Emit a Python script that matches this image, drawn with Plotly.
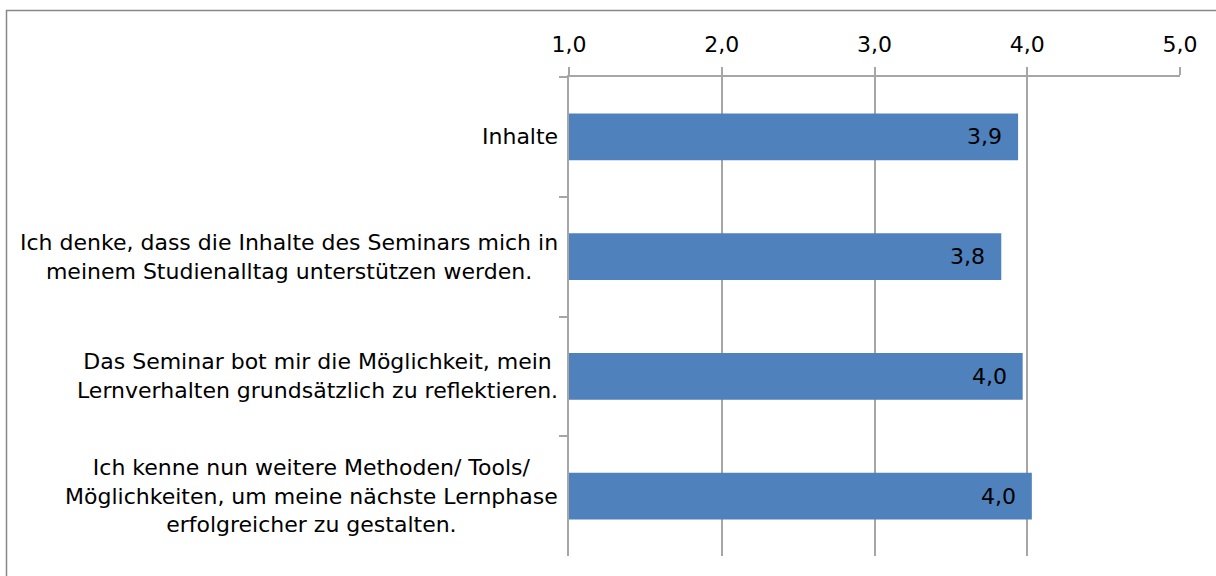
import plotly.graph_objects as go

categories = [
    "Inhalte",
    "Ich denke, dass die Inhalte des Seminars mich in<br>meinem Studienalltag unterstützen werden.",
    "Das Seminar bot mir die Möglichkeit, mein<br>Lernverhalten grundsätzlich zu reflektieren.",
    "Ich kenne nun weitere Methoden/ Tools/<br>Möglichkeiten, um meine nächste Lernphase<br>erfolgreicher zu gestalten.",
]
keys = ["c1", "c2", "c3", "c4"]
values = [3.94, 3.83, 3.97, 4.03]
value_labels = ["3,9", "3,8", "4,0", "4,0"]
x_ticks = [1, 2, 3, 4, 5]
x_tick_labels = ["1,0", "2,0", "3,0", "4,0", "5,0"]

W, H = 1216, 576
L, R, T, B = 569, 36, 77, 20
pw, ph = W - L - R, H - T - B

FONT = "DejaVu Sans"
FS = 22
fig = go.Figure()
fig.add_trace(go.Bar(
    y=keys, x=values, orientation="h",
    marker=dict(color="#4F81BD", line=dict(width=0)),
    width=0.39,
    hoverinfo="skip",
))

for k, v, t in zip(keys, values, value_labels):
    fig.add_annotation(x=v, xref="x", y=k, yref="y", text=t, showarrow=False,
                       xanchor="right", xshift=-14,
                       font=dict(family=FONT, size=FS, color="black"))

for k, c in zip(keys, categories):
    fig.add_annotation(x=0, xref="paper", y=k, yref="y", text=c, showarrow=False,
                       xanchor="right", align="center", xshift=-9,
                       font=dict(family=FONT, size=FS, color="black"))

def px2x(p):
    return (p - L) / pw

def px2y(p):
    return (H - B - p) / ph

fig.add_shape(type="rect", xref="paper", yref="paper",
              x0=px2x(6.5), x1=px2x(1230), y0=px2y(590), y1=px2y(10.5),
              line=dict(color="#888888", width=1.5), fillcolor="rgba(0,0,0,0)", layer="below")

fig.update_layout(
    width=W, height=H,
    margin=dict(l=L, r=R, t=T, b=B, pad=0),
    paper_bgcolor="white", plot_bgcolor="white",
    showlegend=False,
    font=dict(family=FONT, size=FS, color="black"),
    xaxis=dict(
        range=[1, 5], side="top", tickvals=x_ticks, ticktext=x_tick_labels,
        showgrid=True, gridcolor="#A6A6A6", gridwidth=1.5,
        showline=True, linecolor="#A6A6A6", linewidth=1.5,
        ticks="outside", ticklen=8, tickcolor="#A6A6A6", tickwidth=1.5,
        ticklabelstandoff=6,
        tickfont=dict(family=FONT, size=FS, color="black"),
        zeroline=False, fixedrange=True,
    ),
    yaxis=dict(
        categoryorder="array", categoryarray=keys, autorange="reversed",
        showticklabels=False, tickson="boundaries",
        ticks="outside", ticklen=8, tickcolor="#A6A6A6", tickwidth=1.5,
        showline=True, linecolor="#A6A6A6", linewidth=1.5,
        showgrid=False, zeroline=False, fixedrange=True,
    ),
)

fig.write_html("out.html", config={"displayModeBar": False},
               post_script="document.body.style.margin='0';")
